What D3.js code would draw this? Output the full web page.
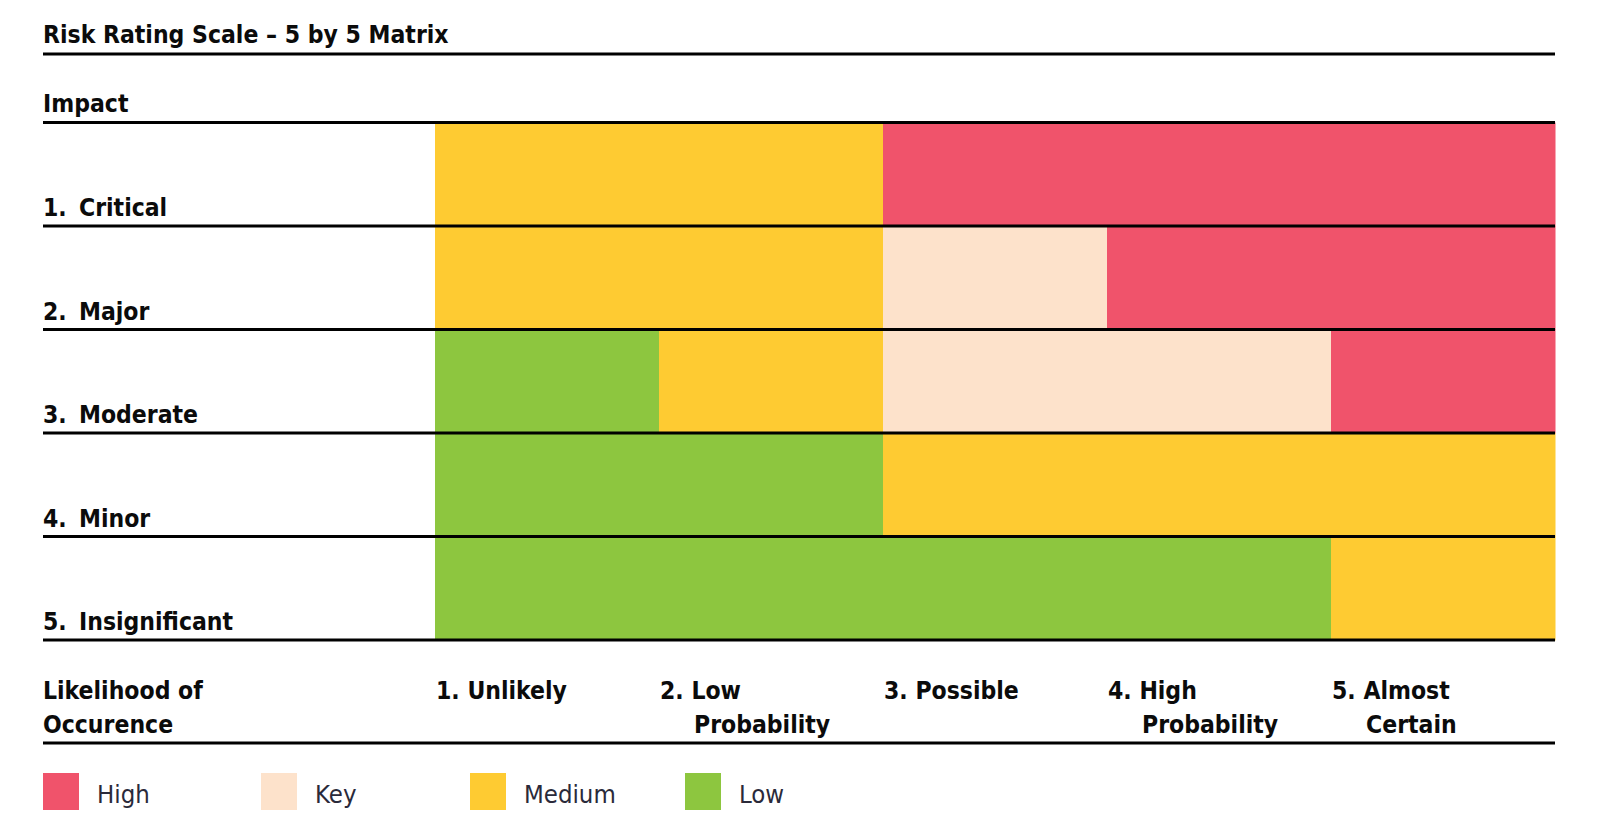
<!DOCTYPE html>
<html><head><meta charset="utf-8">
<script src="https://cdn.jsdelivr.net/npm/d3@7"></script>
<style>
html,body{margin:0;padding:0;background:#fff;}
svg text{font-family:"DejaVu Sans Condensed","Liberation Sans Narrow","Roboto",sans-serif;}
</style></head>
<body><svg id="chart" width="1600" height="834"></svg>
<script>
const title = "Risk Rating Scale – 5 by 5 Matrix";
const impactTitle = "Impact";
const impactNums = ["1.", "2.", "3.", "4.", "5."];
const impactLabels = ["Critical", "Major", "Moderate", "Minor", "Insignificant"];
const likelihoodNums = ["1.", "2.", "3.", "4.", "5."];
const likelihoodLine1 = ["Unlikely", "Low", "Possible", "High", "Almost"];
const likelihoodLine2 = ["", "Probability", "", "Probability", "Certain"];
const likelihoodTitle = ["Likelihood of", "Occurence"];
const ratingLevels = ["High", "Key", "Medium", "Low"];
const ratingColors = ["#F0536B", "#FDE2CB", "#FECB32", "#8DC63F"];
// rows = impact (Critical..Insignificant), columns = likelihood (1..5)
const matrix = [
  ["Medium","Medium","High","High","High"],
  ["Medium","Medium","Key","High","High"],
  ["Low","Medium","Key","Key","High"],
  ["Low","Low","Medium","Medium","Medium"],
  ["Low","Low","Low","Low","Medium"]
];

const svg = d3.select("#chart");
const left = 43, right = 1555;
const gridLeft = 435, gridRight = 1555;
const gridTop = 122.5, gridBottom = 640;

const x = d3.scaleBand().domain(d3.range(5)).range([gridLeft, gridRight]).padding(0);
const y = d3.scaleBand().domain(d3.range(5)).range([gridTop, gridBottom]).padding(0);
const color = d3.scaleOrdinal().domain(ratingLevels).range(ratingColors);

const cells = [];
matrix.forEach((row, r) => row.forEach((v, c) => cells.push({r, c, v})));

svg.append("g").selectAll("rect").data(cells).join("rect")
  .attr("x", d => x(d.c)).attr("y", d => y(d.r))
  .attr("width", x.bandwidth() + 0.5).attr("height", y.bandwidth() + 0.5)
  .attr("fill", d => color(d.v));

const ink = "#0b0b0b";
const boldFont = 24.5;

// title
svg.append("text").attr("x", left).attr("y", 43).text(title)
  .attr("font-size", boldFont).attr("font-weight", "bold").attr("fill", ink);
// impact
svg.append("text").attr("x", left).attr("y", 112).text(impactTitle)
  .attr("font-size", boldFont).attr("font-weight", "bold").attr("fill", ink);

// horizontal rules
const rules = [54, 122.5].concat(d3.range(5).map(i => y(i) + y.bandwidth())).concat([743]);
svg.append("g").selectAll("line").data(rules).join("line")
  .attr("x1", left).attr("x2", right)
  .attr("y1", d => d).attr("y2", d => d)
  .attr("stroke", "#000").attr("stroke-width", 3);

// row labels
const rl = svg.append("g").selectAll("g").data(impactLabels).join("g");
rl.append("text").attr("x", left).attr("y", (d, i) => y(i) + y.bandwidth() - 10)
  .text((d, i) => impactNums[i]).attr("font-size", boldFont).attr("font-weight", "bold").attr("fill", ink);
rl.append("text").attr("x", 79).attr("y", (d, i) => y(i) + y.bandwidth() - 10)
  .text(d => d).attr("font-size", boldFont).attr("font-weight", "bold").attr("fill", ink);

// likelihood title
svg.append("g").selectAll("text").data(likelihoodTitle).join("text")
  .attr("x", left).attr("y", (d, i) => 699 + i * 34).text(d => d)
  .attr("font-size", boldFont).attr("font-weight", "bold").attr("fill", ink);

// column labels
const cl = svg.append("g").selectAll("g").data(likelihoodLine1).join("g");
cl.append("text").attr("x", (d, i) => x(i) + 1).attr("y", 699)
  .text((d, i) => likelihoodNums[i] + " " + d)
  .attr("font-size", boldFont).attr("font-weight", "bold").attr("fill", ink);
cl.append("text").attr("x", (d, i) => x(i) + 35).attr("y", 733)
  .text((d, i) => likelihoodLine2[i])
  .attr("font-size", boldFont).attr("font-weight", "bold").attr("fill", ink);

// legend
const legendX = [43, 261, 470, 685];
const lg = svg.append("g").selectAll("g").data(ratingLevels).join("g")
  .attr("transform", (d, i) => `translate(${legendX[i]},773)`);
lg.append("rect").attr("width", 36).attr("height", 37).attr("fill", d => color(d));
lg.append("text").attr("x", 54).attr("y", 30).text(d => d)
  .attr("font-size", 25.5).attr("fill", "#2a2a3a");
</script></body></html>
